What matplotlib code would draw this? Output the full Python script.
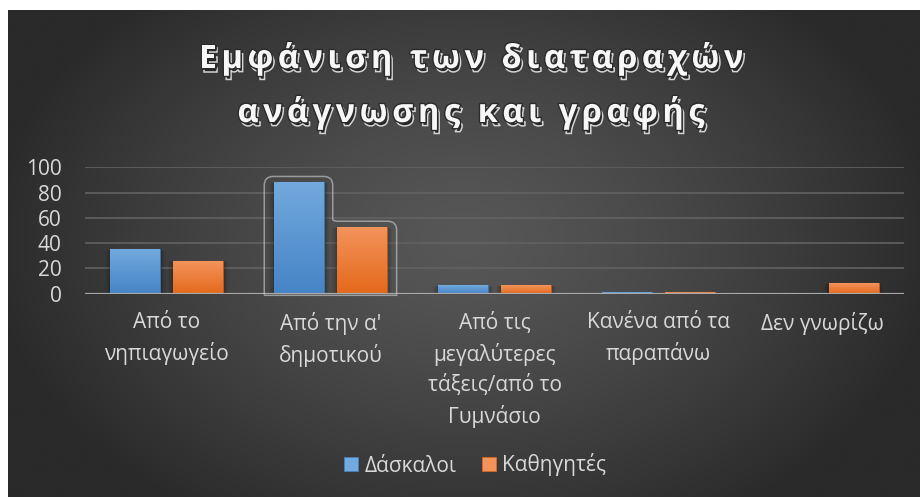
import numpy as np
import matplotlib
matplotlib.use("Agg")
import matplotlib.pyplot as plt
from matplotlib import patheffects as pe
from matplotlib import font_manager
from matplotlib.font_manager import FontProperties
from matplotlib.ft2font import FT2Font
from matplotlib.path import Path
from matplotlib.patches import PathPatch, Rectangle
from matplotlib.colors import LinearSegmentedColormap

# ---- data -------------------------------------------------------------
categories = [
    "Από το\nνηπιαγωγείο",
    "Από την α'\nδημοτικού",
    "Από τις\nμεγαλύτερες\nτάξεις/από το\nΓυμνάσιο",
    "Κανένα από τα\nπαραπάνω",
    "Δεν γνωρίζω",
]
series_names = ["Δάσκαλοι", "Καθηγητές"]
daskaloi = [35, 88, 6.5, 1, 0]
kathigites = [26, 52.5, 6.5, 1, 8]
y_ticks = [0, 20, 40, 60, 80, 100]
title_lines = ["Εμφάνιση των διαταραχών", "ανάγνωσης και γραφής"]

# ---- style ------------------------------------------------------------
W, H, DPI = 921, 497, 100
FONT = "Open Sans"
TEXT_COL = "#d9d9d9"
BLUE = ("#72a9de", "#4584c6", "#3f73a8")      # top, bottom, edge
ORANGE = ("#f3935c", "#e4691b", "#b85a1e")

plt.rcParams["font.family"] = [FONT, "DejaVu Sans"]

fig = plt.figure(figsize=(W / DPI, H / DPI), dpi=DPI, facecolor="white")


def px_box(x0, y0_top, x1, y1_top):
    """figure-fraction rectangle from pixel edges measured from the top-left"""
    return [x0 / W, 1 - y1_top / H, (x1 - x0) / W, (y1_top - y0_top) / H]


# ---- dark radial-gradient chart area ----------------------------------
bg = fig.add_axes(px_box(8, 10, 919, 497))
bg.set_axis_off()
gx, gy = np.meshgrid(np.linspace(-1, 1, 600), np.linspace(-1, 1, 330))
r = np.sqrt((gx / 1.05) ** 2 + ((gy + 0.05) / 1.35) ** 2)
r = np.clip(r, 0, 1) ** 1.3
c_in, c_out = np.array([0x57, 0x57, 0x57]), np.array([0x2a, 0x2a, 0x2a])
img = (c_in[None, None, :] * (1 - r[..., None]) + c_out[None, None, :] * r[..., None]) / 255
bg.imshow(img, aspect="auto", extent=[0, 1, 0, 1], interpolation="bilinear")
bg.set_xlim(0, 1)
bg.set_ylim(0, 1)

# ---- plotting area ----------------------------------------------------
ZERO_Y, TOP_Y = 293.5, 167.3
ax = fig.add_axes(px_box(85, TOP_Y, 904, ZERO_Y))
ax.set_facecolor("none")
for s in ax.spines.values():
    s.set_visible(False)

n = len(categories)
x = np.arange(n)
bar_w = 0.305
offset = 0.192
ax.set_xlim(-0.5, n - 0.5)
ax.set_ylim(0, 100)
ax.set_yticks(y_ticks)
ax.set_xticks(x)
ax.set_xticklabels(categories, fontsize=15, color=TEXT_COL, linespacing=1.5)
ax.tick_params(axis="y", length=0, pad=17, labelsize=15, labelcolor=TEXT_COL)
ax.tick_params(axis="x", length=0, pad=13)
ax.yaxis.grid(True, color="#626262", lw=1.2, zorder=0)
ax.set_axisbelow(True)


def grad_cmap(top, bottom):
    return LinearSegmentedColormap.from_list("g", [bottom, top])


def draw_series(values, xs, cols):
    cm = grad_cmap(cols[0], cols[1])
    bars = ax.bar(xs, values, bar_w, color=cols[1], edgecolor=cols[2],
                  linewidth=0.8, zorder=3)
    for b in bars:
        bx, bw, bh = b.get_x(), b.get_width(), b.get_height()
        if bh <= 0:
            continue
        # soft drop shadow
        for k, a in enumerate([0.10, 0.08, 0.06, 0.04]):
            grow = 0.008 * (k + 1)
            ax.add_patch(Rectangle((bx - grow, -1.5 - k * 0.8), bw + 2 * grow,
                                   bh + 1.5 + k * 0.4, facecolor="black",
                                   edgecolor="none", alpha=a, zorder=2))
        im = ax.imshow(np.linspace(0, 1, 64)[:, None], cmap=cm, origin="lower",
                       extent=[bx, bx + bw, 0, bh], aspect="auto", zorder=3.5,
                       interpolation="bilinear")
        im.set_clip_path(b)
    return bars


bars_a = draw_series(daskaloi, x - offset, BLUE)
bars_b = draw_series(kathigites, x + offset, ORANGE)
ax.set_xlim(-0.5, n - 0.5)
ax.set_ylim(0, 100)

# category axis line
ax.axhline(0, color="#a8a8a8", lw=2.3, zorder=5)

# highlight outline around the second category's bars
fig.canvas.draw()
to_px = ax.transData.transform
ba, bb = bars_a[1], bars_b[1]
(ax0, ay1) = to_px((ba.get_x(), ba.get_height()))
(ax1, _) = to_px((ba.get_x() + ba.get_width(), 0))
(bx0, by1) = to_px((bb.get_x(), bb.get_height()))
(bx1, y0) = to_px((bb.get_x() + bb.get_width(), 0))
rad = 9
L, T1, R1 = ax0 - 10, ay1 + 6, ax1 + 8.5
T2, R2, B = by1 + 6, bx1 + 9.5, y0 - 1.8
verts = [
    (L, B), (L, T1 - rad), (L, T1), (L + rad, T1),
    (R1 - rad, T1), (R1, T1), (R1, T1 - rad),
    (R1, T2 + 2), (R1, T2), (R1 + 6, T2),
    (R2 - rad, T2), (R2, T2), (R2, T2 - rad),
    (R2, B), (L, B),
]
codes = [Path.MOVETO, Path.LINETO, Path.CURVE3, Path.CURVE3,
         Path.LINETO, Path.CURVE3, Path.CURVE3,
         Path.LINETO, Path.CURVE3, Path.CURVE3,
         Path.LINETO, Path.CURVE3, Path.CURVE3,
         Path.LINETO, Path.LINETO]
frame = PathPatch(Path(verts, codes), facecolor="none", edgecolor="#c8c8c8",
                  lw=1.1, alpha=0.65, transform=None, zorder=6)
fig.add_artist(frame)

# ---- legend -----------------------------------------------------------
handles = [Rectangle((0, 0), 1, 1, facecolor=BLUE[0], edgecolor=BLUE[1], lw=0.5),
           Rectangle((0, 0), 1, 1, facecolor=ORANGE[0], edgecolor=ORANGE[1], lw=0.5)]
fig.legend(handles, series_names, loc="center", bbox_to_anchor=(475 / W, 1 - 465 / H),
           ncol=2, frameon=False, fontsize=15, labelcolor=TEXT_COL,
           handlelength=0.68, handleheight=0.68, handletextpad=0.3,
           columnspacing=1.2)

# ---- title with letter spacing and embossed shadow --------------------
tsize = 23.5
tprop = FontProperties(family=FONT, weight="bold", size=tsize)
ft = FT2Font(font_manager.findfont(tprop))
ft.set_size(tsize, DPI)
tracking = 4.5  # extra pixels between letters


def advance(ch):
    g = ft.load_char(ord(ch))
    return g.linearHoriAdvance / 65536


title_fx = [
    pe.PathPatchEffect(offset=(1.6, -2.6), facecolor="#262626",
                       edgecolor="#d4d4d4", linewidth=1.1),
    pe.Stroke(linewidth=2.0, foreground="#2a2a2a"),
    pe.Normal(),
]
center_x = 471
baselines = [68, 122]
for line, base in zip(title_lines, baselines):
    widths = [advance(c) for c in line]
    total = sum(widths) + tracking * (len(line) - 1)
    cx = center_x - total / 2
    for c, w in zip(line, widths):
        if c != " ":
            fig.text(cx / W, 1 - base / H, c, fontproperties=tprop,
                     color="#f7f7f7", ha="left", va="baseline",
                     path_effects=title_fx)
        cx += w + tracking

fig.savefig("out.png", dpi=DPI, facecolor=fig.get_facecolor())
